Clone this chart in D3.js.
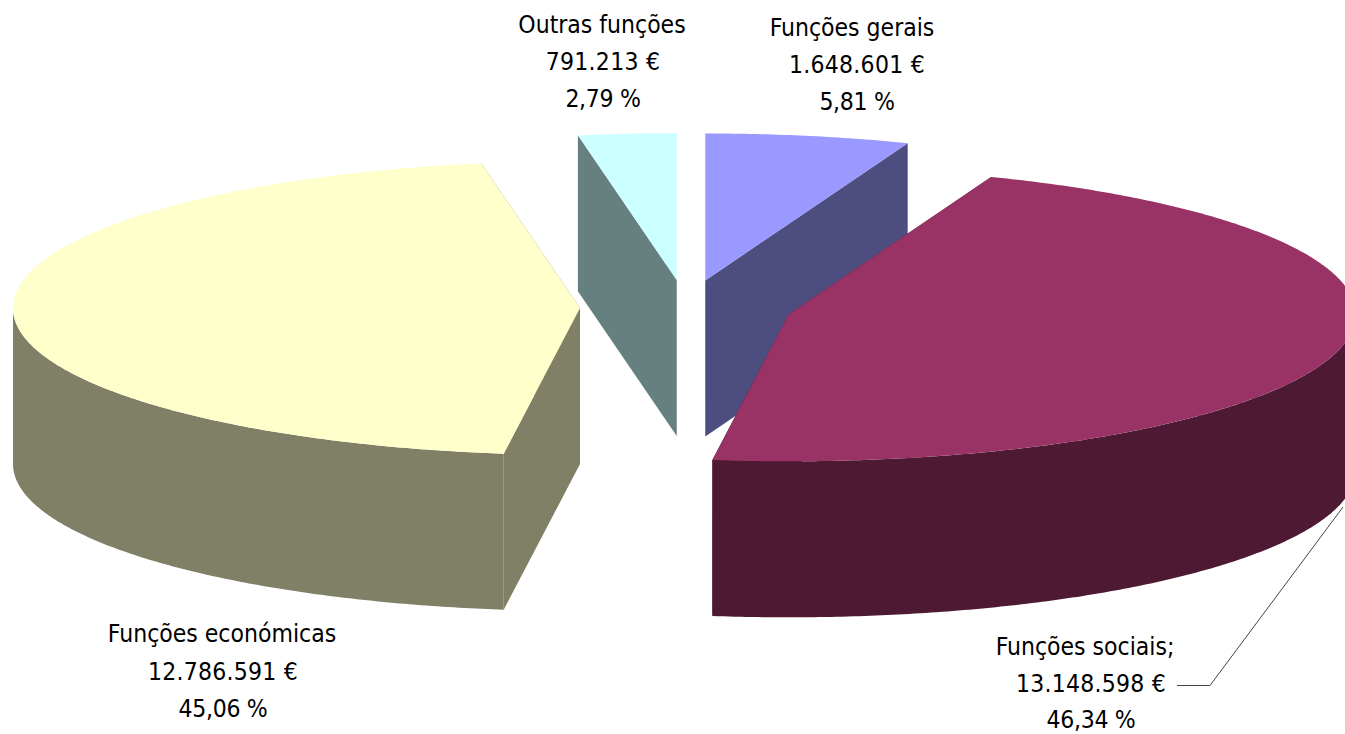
<!DOCTYPE html>
<html>
<head>
<meta charset="utf-8">
<script src="https://cdn.jsdelivr.net/npm/d3@7"></script>
<style>
  html, body { margin: 0; padding: 0; background: #fff; overflow: hidden; }
  svg { display: block; }
  text { font-family: "DejaVu Sans", sans-serif; font-stretch: condensed; font-size: 24.5px; fill: #000; text-anchor: middle; }
  text.amount { letter-spacing: 0.25px; }
  text.percent { letter-spacing: -0.3px; }
</style>
</head>
<body>
<div id="chart"></div>
<script>
// Data, clockwise from 12 o'clock
const categories = ["Funções gerais", "Funções sociais;", "Funções económicas", "Outras funções"];
const amounts = [1648601, 13148598, 12786591, 791213];
const amountLabels = ["1.648.601 €", "13.148.598 €", "12.786.591 €", "791.213 €"];
const percentLabels = ["5,81 %", "46,34 %", "45,06 %", "2,79 %"];
const topColors = ["#9999FF", "#993366", "#FFFFCC", "#CCFFFF"];
const sideColors = ["#4D4D80", "#4D1933", "#808066", "#668080"];

// label placement: [x name, x amount/percent, first baseline, line step]
const labelPos = [[852, 857, 36, 37], [1085, 1091, 655, 36.5], [222, 223, 642, 37.5], [602, 603, 33, 37]];

const W = 1345, H = 734;
const cx = 686, cy = 307.5;   // pie centre before the slices are pulled out
const rx = 567, ry = 147, depth = 156, explode = 106;
const drawOrder = [3, 0, 2, 1];  // back to front

const svg = d3.select("#chart").append("svg").attr("width", W).attr("height", H);

const arcs = d3.pie().sort(null).startAngle(0).endAngle(2 * Math.PI)(amounts);

// unit ground plane -> screen
const sx = d3.scaleLinear().domain([-1, 1]).range([cx - rx, cx + rx]);
const sy = d3.scaleLinear().domain([-1, 1]).range([cy - ry, cy + ry]);
const toScreen = (a, r, o, dz) => [
  sx(r * Math.sin(a) + o[0]),
  sy(-r * Math.cos(a) + o[1]) + dz
];

const line = d3.line();
const arcAngles = (a0, a1) => {
  const n = Math.max(2, Math.ceil((a1 - a0) / 0.01));
  return d3.range(n + 1).map(i => a0 + (a1 - a0) * i / n);
};

const slices = svg.append("g");

drawOrder.forEach(i => {
  const d = arcs[i];
  const mid = (d.startAngle + d.endAngle) / 2;
  const off = [explode / rx * Math.sin(mid), -explode / rx * Math.cos(mid)];
  const g = slices.append("g");
  const apex = dz => toScreen(0, 0, off, dz);
  const rim = (a, dz) => toScreen(a, 1, off, dz);

  // cut faces
  [d.startAngle, d.endAngle].forEach(a => {
    g.append("path")
      .attr("d", line([apex(0), rim(a, 0), rim(a, depth), apex(depth)]) + "Z")
      .attr("fill", sideColors[i]);
  });

  // outer wall, only the front half of the rim shows
  const a0 = Math.max(d.startAngle, Math.PI / 2);
  const a1 = Math.min(d.endAngle, 3 * Math.PI / 2);
  if (a1 > a0) {
    const angles = arcAngles(a0, a1);
    const pts = angles.map(a => rim(a, 0)).concat(angles.slice().reverse().map(a => rim(a, depth)));
    g.append("path").attr("d", line(pts) + "Z").attr("fill", sideColors[i]);
  }

  // top
  const topPts = [apex(0)].concat(arcAngles(d.startAngle, d.endAngle).map(a => rim(a, 0)));
  g.append("path").attr("d", line(topPts) + "Z").attr("fill", topColors[i]);
});

// leader line for Funções sociais
svg.append("path")
  .attr("d", line([[1177, 685.5], [1210, 685.5], [1343, 507]]))
  .attr("fill", "none")
  .attr("stroke", "#444")
  .attr("stroke-width", 1);

// labels
categories.forEach((c, i) => {
  const [xName, xVal, y0, step] = labelPos[i];
  const t = svg.append("g");
  t.append("text").attr("x", xName).attr("y", y0).text(c);
  t.append("text").attr("class", "amount").attr("x", xVal).attr("y", y0 + step).text(amountLabels[i]);
  t.append("text").attr("class", "percent").attr("x", xVal).attr("y", y0 + 2 * step).text(percentLabels[i]);
});
</script>
</body>
</html>
